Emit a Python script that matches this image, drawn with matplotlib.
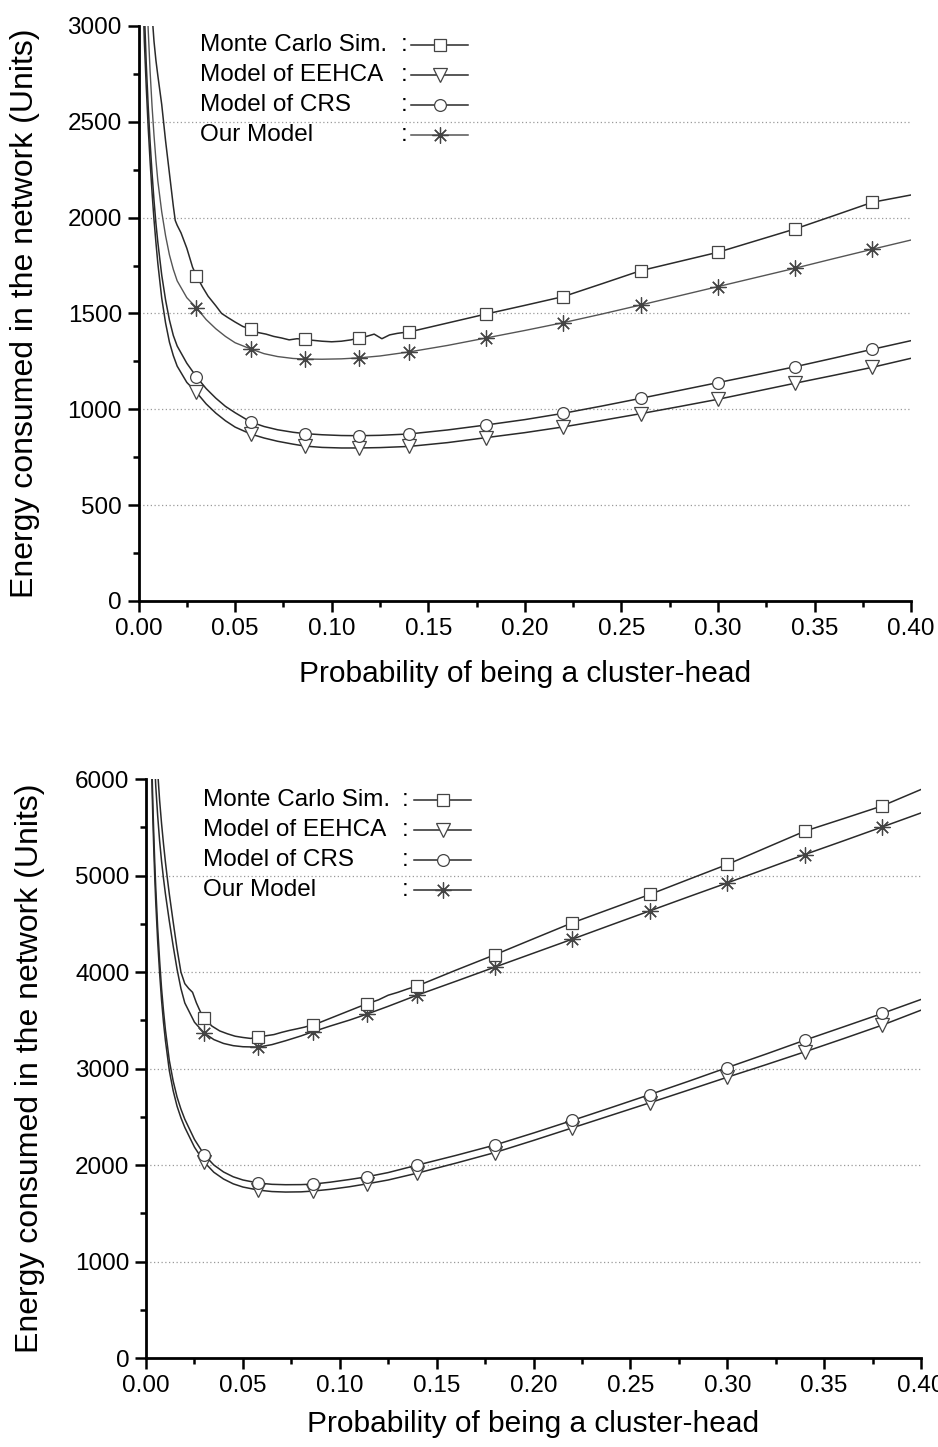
import numpy as np
from matplotlib import pyplot as plt
from matplotlib.ticker import MultipleLocator, FormatStrFormatter

plt.rcParams['font.family'] = ['Liberation Sans', 'DejaVu Sans']

# --- data ---
marker_p = [0.03, 0.058, 0.086, 0.114, 0.14, 0.18, 0.22, 0.26, 0.30, 0.34, 0.38]
names = ['Monte Carlo Sim.', 'Model of EEHCA', 'Model of CRS', 'Our Model']

# top panel (smaller network)
p_top = [0.0025, 0.003, 0.004, 0.005, 0.006, 0.007, 0.008, 0.009, 0.010, 0.012,
         0.014, 0.016, 0.018, 0.020, 0.025, 0.030, 0.035, 0.040, 0.045, 0.050,
         0.058, 0.065, 0.072, 0.080, 0.086, 0.095, 0.105, 0.114, 0.125, 0.140,
         0.160, 0.180, 0.200, 0.220, 0.240, 0.260, 0.280, 0.300, 0.320, 0.340,
         0.360, 0.380, 0.400]
eehca_top = [3100, 2920, 2680, 2470, 2290, 2130, 1990, 1870, 1760, 1580,
             1450, 1350, 1280, 1225, 1140, 1088, 1028, 980, 940, 907,
             871, 850, 833, 818, 808, 801, 798, 798, 800, 806,
             826, 852, 878, 908, 942, 977, 1014, 1052, 1094, 1136,
             1177, 1219, 1266]
crs_top = [3300, 3080, 2800, 2580, 2390, 2230, 2090, 1970, 1870, 1700,
           1570, 1465, 1385, 1330, 1240, 1169, 1108, 1058, 1015, 982,
           934, 910, 893, 880, 873, 867, 863, 862, 864, 871,
           892, 918, 946, 979, 1017, 1057, 1098, 1139, 1180, 1222,
           1267, 1313, 1358]
ours_top = [3900, 3600, 3250, 2980, 2760, 2580, 2430, 2300, 2190, 2030,
            1905, 1805, 1730, 1670, 1582, 1529, 1468, 1420, 1380, 1347,
            1315, 1290, 1275, 1265, 1262, 1261, 1263, 1268, 1278, 1299,
            1333, 1372, 1411, 1452, 1497, 1544, 1592, 1640, 1688, 1736,
            1786, 1835, 1883]
p_mc_top = [0.006, 0.007, 0.008, 0.009, 0.010, 0.012, 0.014, 0.016, 0.018, 0.019,
            0.020, 0.022, 0.025, 0.028, 0.030, 0.033, 0.036, 0.040, 0.043, 0.046,
            0.050, 0.054, 0.058, 0.062, 0.066, 0.070, 0.074, 0.078, 0.082, 0.086,
            0.090, 0.095, 0.100, 0.105, 0.110, 0.114, 0.118, 0.122, 0.126, 0.130,
            0.134, 0.137, 0.140, 0.160, 0.180, 0.200, 0.220, 0.240, 0.260, 0.280,
            0.300, 0.320, 0.340, 0.360, 0.380, 0.400]
mc_top = [3200, 3060, 2920, 2820, 2740, 2590, 2400, 2230, 2060, 1985,
          1960, 1920, 1840, 1740, 1697, 1640, 1590, 1540, 1500, 1480,
          1455, 1432, 1419, 1400, 1392, 1380, 1372, 1362, 1368, 1365,
          1360, 1355, 1352, 1355, 1362, 1372, 1380, 1392, 1368, 1388,
          1396, 1400, 1403, 1450, 1497, 1542, 1588, 1655, 1723, 1771,
          1819, 1880, 1941, 2010, 2080, 2118]

# bottom panel (larger network)
p_bot = [0.0025, 0.003, 0.0035, 0.004, 0.0045, 0.005, 0.006, 0.007, 0.008, 0.009,
         0.010, 0.012, 0.014, 0.016, 0.018, 0.020, 0.025, 0.030, 0.035, 0.040,
         0.045, 0.050, 0.058, 0.065, 0.072, 0.080, 0.086, 0.095, 0.105, 0.114,
         0.125, 0.140, 0.160, 0.180, 0.200, 0.220, 0.240, 0.260, 0.280, 0.300,
         0.320, 0.340, 0.360, 0.380, 0.400]
eehca_bot = [6500, 6000, 5600, 5270, 4980, 4730, 4320, 3990, 3710, 3480,
             3290, 2980, 2770, 2610, 2490, 2390, 2185, 2031, 1925, 1855,
             1805, 1772, 1740, 1725, 1720, 1722, 1730, 1748, 1775, 1805,
             1845, 1916, 2020, 2129, 2255, 2385, 2515, 2645, 2777, 2910,
             3040, 3173, 3310, 3450, 3605]
crs_bot = [6650, 6150, 5750, 5420, 5130, 4880, 4460, 4120, 3830, 3600,
           3400, 3085, 2870, 2705, 2580, 2475, 2265, 2107, 2000, 1928,
           1878, 1845, 1813, 1800, 1796, 1797, 1802, 1822, 1850, 1878,
           1922, 1999, 2100, 2207, 2332, 2462, 2595, 2730, 2868, 3010,
           3150, 3294, 3432, 3571, 3716]
ours_bot = [7600, 7100, 6700, 6400, 6150, 5930, 5620, 5360, 5150, 4970,
            4810, 4530, 4270, 4030, 3830, 3680, 3480, 3368, 3300, 3260,
            3237, 3226, 3222, 3248, 3288, 3338, 3381, 3440, 3502, 3564,
            3645, 3761, 3905, 4051, 4196, 4341, 4488, 4634, 4780, 4924,
            5070, 5218, 5360, 5504, 5649]
p_mc_bot = [0.005, 0.006, 0.007, 0.008, 0.009, 0.010, 0.011, 0.012, 0.014, 0.016,
            0.018, 0.020, 0.022, 0.024, 0.026, 0.028, 0.030, 0.034, 0.038, 0.042,
            0.046, 0.050, 0.054, 0.058, 0.062, 0.066, 0.070, 0.074, 0.078, 0.082,
            0.086, 0.090, 0.095, 0.100, 0.105, 0.110, 0.114, 0.120, 0.125, 0.130,
            0.135, 0.140, 0.160, 0.180, 0.200, 0.220, 0.240, 0.260, 0.280, 0.300,
            0.320, 0.340, 0.360, 0.380, 0.400]
mc_bot = [6500, 6080, 5780, 5540, 5330, 5140, 4970, 4810, 4520, 4240,
          4000, 3880, 3830, 3790, 3680, 3590, 3523, 3440, 3390, 3360,
          3335, 3322, 3312, 3325, 3340, 3352, 3375, 3395, 3412, 3430,
          3454, 3480, 3520, 3560, 3600, 3640, 3670, 3712, 3760, 3790,
          3825, 3856, 4020, 4179, 4345, 4510, 4657, 4804, 4960, 5115,
          5288, 5460, 5590, 5722, 5892]

# --- styles ---
line_c = '#2a2a2a'
edge_c = '#444444'
mk = {'mc': dict(marker='s', ms=8),
      'eehca': dict(marker='v', ms=9.5),
      'crs': dict(marker='o', ms=8.5),
      'ours': dict(marker=(8, 2, 0), ms=11.5)}

def mark_idx(p):
    p = np.asarray(p)
    return [int(np.argmin(np.abs(p - m))) for m in marker_p]

def draw(ax, p, e, key, lc=line_c, lw=1.1):
    ax.plot(p, e, color=lc, lw=lw, markevery=mark_idx(p), mfc='white',
            mec=edge_c, mew=0.9, clip_on=True, **mk[key])

def style(ax, ymax, ymaj, ymin):
    ax.set_xlim(0, 0.40)
    ax.set_ylim(0, ymax)
    for s in ['top', 'right']:
        ax.spines[s].set_visible(False)
    for s in ['left', 'bottom']:
        ax.spines[s].set_linewidth(2.0)
    ax.xaxis.set_major_locator(MultipleLocator(0.05))
    ax.xaxis.set_minor_locator(MultipleLocator(0.025))
    ax.xaxis.set_major_formatter(FormatStrFormatter('%.2f'))
    ax.yaxis.set_major_locator(MultipleLocator(ymaj))
    ax.yaxis.set_minor_locator(MultipleLocator(ymin))
    ax.tick_params(which='major', direction='out', length=8, width=1.8,
                   labelsize=17.5, pad=4)
    ax.tick_params(which='minor', direction='out', length=4.5, width=1.8)
    # dotted guide lines at inner major ticks only
    for yv in np.arange(ymaj, ymax, ymaj):
        ax.axhline(yv, linestyle=(0, (1, 2)), color='#9a9a9a', lw=0.9, zorder=0)
    ax.set_xlabel('Probability of being a cluster-head', fontsize=21.5)
    ax.set_ylabel('Energy consumed in the network (Units)', fontsize=23)

def legend(ax, xt, xc, xh0, xh1, xm, y0, dy, our_c):
    keys = ['mc', 'eehca', 'crs', 'ours']
    for i, (nm, key) in enumerate(zip(names, keys)):
        y = y0 - i * dy
        ax.text(xt, y, nm, transform=ax.transAxes, fontsize=17.5,
                ha='left', va='center')
        ax.text(xc, y, ':', transform=ax.transAxes, fontsize=17.5,
                ha='center', va='center')
        lc = our_c if key == 'ours' else line_c
        ax.plot([xh0, xh1], [y, y], transform=ax.transAxes, color=lc,
                lw=1.1, clip_on=False)
        ax.plot([xm], [y], transform=ax.transAxes, mfc='white', mec=edge_c,
                mew=0.9, ls='none', clip_on=False, **mk[key])

fig = plt.figure(figsize=(9.38, 14.47), dpi=100)
ax_top = fig.add_axes([0.1477, 0.5847, 0.8236, 0.3974])
ax_bot = fig.add_axes([0.1557, 0.0615, 0.8262, 0.4001])

# top
draw(ax_top, p_top, eehca_top, 'eehca')
draw(ax_top, p_top, crs_top, 'crs')
draw(ax_top, p_top, ours_top, 'ours', lc='#555555', lw=1.0)
draw(ax_top, p_mc_top, mc_top, 'mc')
style(ax_top, 3000, 500, 250)
ax_top.xaxis.set_label_coords(0.5, -0.103)
ax_top.yaxis.set_label_coords(-0.128, 0.5)
legend(ax_top, 0.0796, 0.344, 0.353, 0.426, 0.390, 0.967, 0.052, '#555555')

# bottom
draw(ax_bot, p_bot, eehca_bot, 'eehca')
draw(ax_bot, p_bot, crs_bot, 'crs')
draw(ax_bot, p_bot, ours_bot, 'ours')
draw(ax_bot, p_mc_bot, mc_bot, 'mc')
style(ax_bot, 6000, 1000, 500)
ax_bot.xaxis.set_label_coords(0.5, -0.090)
ax_bot.yaxis.set_label_coords(-0.130, 0.5)
legend(ax_bot, 0.074, 0.334, 0.3458, 0.419, 0.3835, 0.964, 0.052, line_c)

fig.savefig('out.png', dpi=100)
